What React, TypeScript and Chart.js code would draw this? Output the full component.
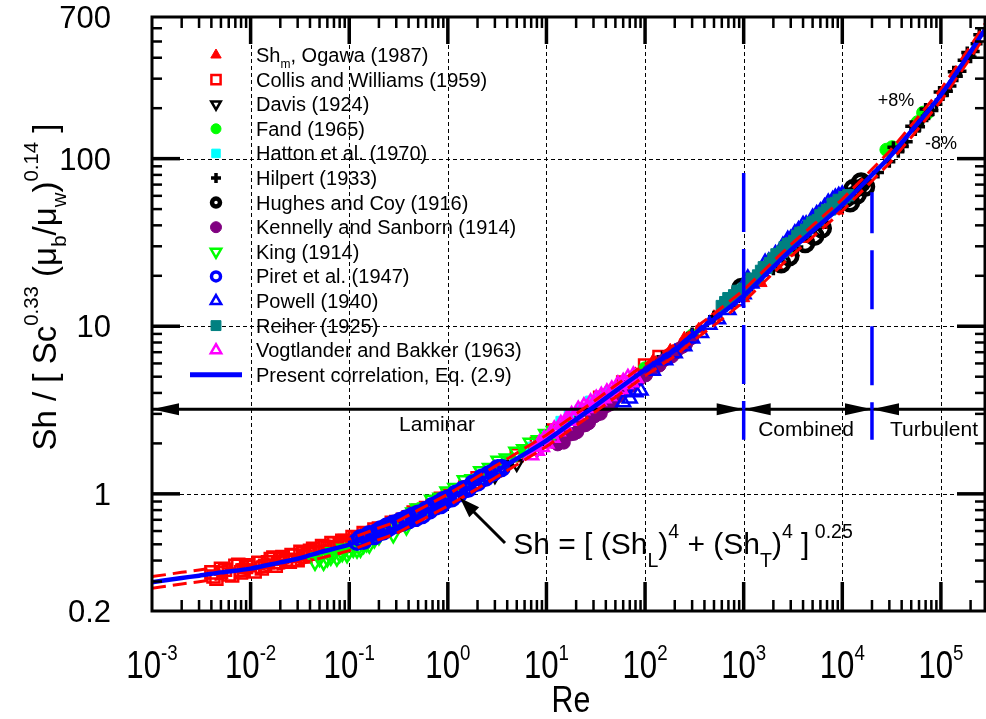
import React, { useEffect, useRef } from 'react';
import { Chart, registerables } from 'chart.js';
import { drawPoint } from 'chart.js/helpers';

Chart.register(...registerables);

const FONT = '"Liberation Sans", Arial, Helvetica, sans-serif';

// Axis ranges
const xMin = 1e-3;
const xMax = 2.8e5;
const yMin = 0.2;
const yMax = 700;
const yTickValues = [0.2, 1, 10, 100, 700];
const xTickExponents = [-3, -2, -1, 0, 1, 2, 3, 4, 5];

// Present correlation, Eq. (2.9)
const corrRe = [0.001, 0.002, 0.003, 0.005, 0.01, 0.02, 0.03, 0.05, 0.1, 0.2, 0.3, 0.5, 1, 2, 3, 5, 10, 20, 30, 50, 100, 200, 300, 500, 1000, 2000, 3000, 5000, 1e4, 2e4, 3e4, 5e4, 1e5, 2e5, 2.8e5];
const corrSh = [0.297, 0.315, 0.325, 0.34, 0.358, 0.39, 0.41, 0.448, 0.498, 0.58, 0.63, 0.74, 0.92, 1.17, 1.35, 1.62, 2.08, 2.78, 3.29, 4.1, 5.5, 7.2, 8.8, 11.0, 15.2, 22.6, 28.4, 37, 53, 80, 102, 146, 240, 435, 590];
// +8% / -8% band around the correlation
const bandUpper = 1.08;
const bandLower = 0.92;

// Experimental data sets
const ogawaRe = [80, 120, 180, 250, 350, 500, 700, 1000, 1500, 2200, 3200, 4500, 6500, 9000, 13000, 18000];
const ogawaSh = [5.2, 6.2, 7.18, 8.48, 9.59, 11.4, 13.3, 14.7, 18.1, 22.6, 27.6, 33.2, 40.2, 49.0, 58.9, 72];

const collisRe = [0.004, 0.0042, 0.0045, 0.005, 0.0055, 0.006, 0.0065, 0.007, 0.0075, 0.008, 0.0085, 0.009, 0.0095, 0.011, 0.012, 0.013, 0.014, 0.015, 0.016, 0.017, 0.018, 0.019, 0.02, 0.021, 0.023, 0.025, 0.026, 0.028, 0.03, 0.032, 0.034, 0.036, 0.038, 0.04, 0.043, 0.046, 0.05, 0.053, 0.056, 0.06, 0.063, 0.066, 0.07, 0.075, 0.08, 0.085, 0.09, 0.095, 0.1, 0.108, 0.115, 0.122, 0.13, 0.14, 0.15, 0.16, 0.17, 0.18, 0.2, 0.22, 0.25, 0.27, 0.3, 0.35, 0.4, 0.45, 0.5, 0.6, 0.7, 0.85, 1, 1.5, 2, 3, 5, 8, 12, 20, 35, 60, 100, 140];
const collisSh = [0.340, 0.321, 0.312, 0.357, 0.353, 0.330, 0.326, 0.372, 0.378, 0.340, 0.350, 0.366, 0.375, 0.344, 0.388, 0.359, 0.372, 0.391, 0.408, 0.417, 0.372, 0.391, 0.410, 0.420, 0.405, 0.393, 0.431, 0.428, 0.402, 0.452, 0.443, 0.423, 0.439, 0.457, 0.471, 0.449, 0.448, 0.488, 0.484, 0.475, 0.480, 0.509, 0.508, 0.477, 0.495, 0.525, 0.523, 0.509, 0.520, 0.552, 0.551, 0.546, 0.544, 0.584, 0.578, 0.574, 0.571, 0.612, 0.621, 0.621, 0.634, 0.672, 0.680, 0.701, 0.725, 0.773, 0.792, 0.823, 0.853, 0.935, 0.975, 1.09, 1.24, 1.38, 1.70, 1.99, 2.39, 2.89, 3.75, 4.62, 5.83, 6.55];

const davisRe = [3, 5, 8, 12, 18, 25, 35, 50, 70, 100, 150, 220];
const davisSh = [1.28, 1.51, 1.83, 2.12, 2.54, 2.81, 3.29, 3.90, 4.47, 5.28, 6.13, 7.25];

const fandRe = [3, 6, 15, 40, 100, 300, 1000, 3000, 10000, 28000, 32000, 58000, 66000, 72000];
const fandSh = [1.42, 1.79, 2.60, 3.86, 5.61, 8.8, 15.5, 29.3, 54.1, 113, 117, 165, 188, 186];

const hattonRe = [2, 4, 7, 10, 14, 17, 22, 28, 35, 44];
const hattonSh = [1.23, 1.59, 1.90, 2.25, 2.71, 2.99, 3.17, 3.58, 3.78, 4.10];

const hilpertRe = [2, 4, 10, 20, 40, 80, 150, 300, 500, 800, 1200, 2000, 3500, 6000, 10000, 16000, 23000, 30000, 33000, 37000, 41000, 45000, 50000, 55000, 60000, 65000, 70000, 75000, 82000, 90000, 97000, 105000, 115000, 125000, 135000, 145000, 158000, 170000, 185000, 200000, 215000, 230000, 245000];
const hilpertSh = [1.21, 1.47, 2.12, 2.70, 3.68, 4.90, 6.58, 9.06, 11.4, 14.1, 17.5, 21.9, 29.7, 39.0, 51.4, 68.6, 82.7, 95.9, 117, 110, 118, 126, 156, 148, 155, 169, 198, 184, 194, 211, 250, 240, 252, 271, 330, 310, 332, 386, 430, 403, 436, 484, 548];

const hughesRe = [950, 2400, 2900, 4200, 5200, 6200, 11000, 12000, 13000, 14000, 15500, 17000];
const hughesSh = [16.9, 23.8, 26.2, 31.4, 34.7, 38.4, 58.8, 55.0, 66.0, 61.0, 72.0, 68.0];

const kennellyRe = [12, 13, 14, 15, 16, 17.5, 19, 20.5, 22, 23.5, 25, 27, 29, 31, 33, 35.5, 38, 41, 44, 47, 50, 55, 60, 65, 70, 75, 80, 88, 95, 102, 110, 120, 130, 140, 150, 162, 175, 188, 200, 220, 240, 260, 280, 300];
const kennellySh = [2.03, 1.973, 2.08, 2.021, 2.24, 2.262, 2.28, 2.332, 2.51, 2.556, 2.57, 2.643, 2.85, 2.903, 2.98, 3.007, 3.26, 3.350, 3.41, 3.473, 3.73, 3.843, 4.05, 4.215, 4.42, 4.428, 4.65, 4.836, 5.08, 5.097, 5.43, 5.605, 5.73, 5.831, 6.19, 6.374, 6.51, 6.608, 6.98, 7.324, 7.54, 7.790, 8.33, 8.536];

const kingRe = [0.045, 0.05, 0.055, 0.06, 0.065, 0.07, 0.075, 0.08, 0.085, 0.09, 0.095, 0.1, 0.11, 0.12, 0.13, 0.14, 0.15, 0.16, 0.18, 0.2, 0.24, 0.28, 0.33, 0.38, 0.45, 0.5, 0.6, 0.7, 0.85, 1, 1.2, 1.5, 1.8, 2.2, 2.7, 3.3, 4, 5, 6, 7, 8.5, 10, 12];
const kingSh = [0.396, 0.417, 0.3955, 0.416, 0.4244, 0.447, 0.4195, 0.441, 0.447, 0.468, 0.4398, 0.460, 0.473, 0.468, 0.474, 0.499, 0.511, 0.502, 0.539, 0.563, 0.629, 0.578, 0.689, 0.644, 0.772, 0.814, 0.827, 0.918, 0.945, 1.03, 1.08, 1.20, 1.22, 1.36, 1.42, 1.57, 1.62, 1.78, 1.84, 2.01, 2.08, 2.27, 2.36];

const piretRe = [0.12, 0.13, 0.14, 0.15, 0.16, 0.18, 0.19, 0.21, 0.22, 0.24, 0.25, 0.28, 0.3, 0.33, 0.35, 0.38, 0.4, 0.44, 0.47, 0.5, 0.55, 0.6, 0.65, 0.7, 0.75, 0.8, 0.85, 0.9, 0.95, 1.0, 1.1, 1.2, 1.3, 1.45, 1.6, 1.8, 2, 2.2, 2.4, 2.6, 2.9, 3.2, 3.5];
const piretSh = [0.518, 0.543, 0.525, 0.555, 0.574, 0.561, 0.591, 0.615, 0.597, 0.638, 0.625, 0.663, 0.655, 0.688, 0.674, 0.713, 0.697, 0.739, 0.719, 0.762, 0.747, 0.800, 0.796, 0.847, 0.840, 0.875, 0.857, 0.917, 0.915, 0.938, 0.941, 1.000, 1.007, 1.067, 1.072, 1.151, 1.170, 1.246, 1.247, 1.309, 1.347, 1.422, 1.426];

const powellRe = [60, 70, 80, 90, 120, 160, 200, 250, 300, 370, 450, 550, 700, 850, 1000, 1100, 1200, 1500, 1650, 1800, 2100, 2500, 2800, 3000, 3300, 3600, 4000, 4300, 5000, 5500, 6000, 6600, 7200, 8000, 8500, 9200, 10000];
const powellSh = [3.52, 3.71, 4.04, 4.13, 5.43, 6.27, 6.91, 7.60, 8.45, 9.12, 10.2, 11.0, 12.5, 14.1, 15.5, 19.3, 18.0, 21.2, 23.9, 24.3, 26.9, 30.2, 32.8, 33.2, 35.8, 37.4, 40.2, 40.4, 44.4, 46.6, 48.4, 51.3, 54.6, 56.6, 58.5, 59.9, 61.0];

const reiherRe = [600, 650, 700, 750, 800, 870, 950, 1000, 1100, 1200, 1300, 1400, 1500, 1600, 1700, 1850, 2000, 2150, 2300, 2450, 2600, 2800, 3000, 3250, 3500, 3750, 4000, 4300, 4600, 4950, 5300, 5650, 6000, 6500, 7000, 7500, 8000, 8600, 9200, 9800, 10500, 11500];
const reiherSh = [13.2, 13.92, 14.7, 14.49, 15.3, 16.25, 16.3, 16.72, 18.1, 19.23, 19.1, 20.09, 21.4, 22.48, 22.3, 23.77, 25.3, 26.84, 27.0, 27.87, 29.6, 30.87, 31.2, 32.26, 34.6, 36.02, 36.3, 37.64, 39.8, 41.49, 42.1, 42.97, 45.9, 47.47, 49.3, 49.76, 53.6, 54.38, 56.7, 56.61, 58.9, 60.47];

const vogtRe = [7, 7.5, 8, 8.5, 9, 9.5, 10, 11, 11.5, 12, 13, 14, 15, 16, 17, 18, 20, 21, 23, 24, 26, 28, 30, 32, 34, 36, 38, 41, 43, 46, 50, 53, 56, 60, 63, 67, 72, 76, 80];
const vogtSh = [1.701, 1.820, 1.805, 2.001, 1.903, 2.124, 1.997, 2.295, 2.161, 2.424, 2.367, 2.609, 2.564, 2.786, 2.728, 2.954, 2.947, 3.177, 3.152, 3.328, 3.254, 3.513, 3.422, 3.687, 3.576, 3.844, 3.716, 4.027, 3.842, 4.192, 4.182, 4.497, 4.216, 4.652, 4.522, 4.918, 4.640, 5.090, 4.904];

// Flow-regime bar and boundaries
const regimeLevel = 3.2;
const regimeArrowRe = [1e-3, 1000, 1000, 2e4, 2e4];
const regimeArrowDir = [-1, 1, -1, 1, -1];
const boundaryRe = [1000, 2e4];
const boundaryTop = [82, 63];
const boundaryBottom = 2.1;

// Text annotations [Re, value]
const regimeLabels = ['Laminar', 'Combined', 'Turbulent'];
const regimeLabelRe = [0.776, 4290, 85100];
const regimeLabelSh = [2.58, 2.4, 2.4];
const bandLabels = ['+8%', '-8%'];
const bandLabelRe = [35100, 1.0e5];
const bandLabelSh = [221, 122];
const equationText = 'Sh = [ (Sh_{L})^{4} + (Sh_{T})^{4} ]^{ 0.25}';
const equationAt = [4.6, 0.4375];
const equationArrowFrom = [3.8, 0.509];
const equationArrowTo = [1.33, 0.944];

const RED = '#ff0000';
const BLUE = '#0000ff';
const GREEN = '#00ff00';

type Series = {
  label: string; re: number[]; sh: number[]; style: string; rot?: number;
  color: string; fill: boolean; r: number; bw: number; lr: number;
};

const series: Series[] = [
  { label: 'Sh_{m}, Ogawa (1987)', re: ogawaRe, sh: ogawaSh, style: 'triangle', color: RED, fill: true, r: 7, bw: 1, lr: 6 },
  { label: 'Collis and Williams (1959)', re: collisRe, sh: collisSh, style: 'rect', color: RED, fill: false, r: 8.5, bw: 2.5, lr: 6.5 },
  { label: 'Davis (1924)', re: davisRe, sh: davisSh, style: 'triangle', rot: 180, color: '#000000', fill: false, r: 7, bw: 2.5, lr: 5.5 },
  { label: 'Fand (1965)', re: fandRe, sh: fandSh, style: 'circle', color: GREEN, fill: true, r: 6.5, bw: 1, lr: 5 },
  { label: 'Hatton et al. (1970)', re: hattonRe, sh: hattonSh, style: 'rect', color: '#00ffff', fill: true, r: 7, bw: 1, lr: 6 },
  { label: 'Hilpert (1933)', re: hilpertRe, sh: hilpertSh, style: 'cross', color: '#000000', fill: false, r: 6, bw: 3.5, lr: 5 },
  { label: 'Hughes and Coy (1916)', re: hughesRe, sh: hughesSh, style: 'circle', color: '#000000', fill: false, r: 8, bw: 4.5, lr: 4 },
  { label: 'Kennelly and Sanborn (1914)', re: kennellyRe, sh: kennellySh, style: 'circle', color: '#800080', fill: true, r: 6.5, bw: 1, lr: 5.5 },
  { label: 'King (1914)', re: kingRe, sh: kingSh, style: 'triangle', rot: 180, color: GREEN, fill: false, r: 8.5, bw: 2.5, lr: 6 },
  { label: 'Piret et al. (1947)', re: piretRe, sh: piretSh, style: 'circle', color: BLUE, fill: false, r: 7.5, bw: 3.5, lr: 4.5 },
  { label: 'Powell (1940)', re: powellRe, sh: powellSh, style: 'triangle', color: BLUE, fill: false, r: 8, bw: 2.5, lr: 6 },
  { label: 'Reiher (1925)', re: reiherRe, sh: reiherSh, style: 'rect', color: '#008080', fill: true, r: 8, bw: 1, lr: 7 },
  { label: 'Vogtlander and Bakker (1963)', re: vogtRe, sh: vogtSh, style: 'triangle', color: '#ff00ff', fill: false, r: 8, bw: 2.5, lr: 6 },
];
const correlationLabel = 'Present correlation, Eq. (2.9)';

const pts = (xs: number[], ys: number[]) => xs.map((x, i) => ({ x, y: ys[i] }));

// ---- rich text (sub/superscripts) ----
type Seg = { t: string; k: number };
function parseRich(s: string): Seg[] {
  const segs: Seg[] = [];
  let buf = '';
  let i = 0;
  while (i < s.length) {
    const c = s[i];
    if ((c === '^' || c === '_') && s[i + 1] === '{') {
      if (buf) { segs.push({ t: buf, k: 0 }); buf = ''; }
      const end = s.indexOf('}', i);
      segs.push({ t: s.slice(i + 2, end), k: c === '^' ? 1 : -1 });
      i = end + 1;
    } else {
      buf += c;
      i++;
    }
  }
  if (buf) segs.push({ t: buf, k: 0 });
  return segs;
}

function drawRich(ctx: CanvasRenderingContext2D, text: string, x: number, y: number, size: number,
  align: string, o: any = {}) {
  const hs = o.hs ?? 1;
  const small = size * (o.small ?? 0.65);
  const supShift = size * (o.sup ?? 0.55);
  const subShift = size * (o.sub ?? 0.35);
  const segs = parseRich(text);
  const widths = segs.map((s) => {
    ctx.font = `${s.k ? small : size}px ${FONT}`;
    return ctx.measureText(s.t).width;
  });
  const total = widths.reduce((a, b) => a + b, 0);
  let cx = align === 'left' ? 0 : align === 'center' ? -total / 2 : -total;
  ctx.save();
  ctx.translate(x, y);
  if (o.rotate) ctx.rotate(o.rotate);
  ctx.scale(hs, 1);
  ctx.textAlign = 'left';
  ctx.textBaseline = 'alphabetic';
  ctx.fillStyle = o.color ?? '#000';
  segs.forEach((s, i) => {
    ctx.font = `${s.k ? small : size}px ${FONT}`;
    ctx.fillText(s.t, cx, s.k === 1 ? -supShift : s.k === -1 ? subShift : 0);
    cx += widths[i];
  });
  ctx.restore();
}

function logTicks(min: number, max: number) {
  const majors: number[] = [];
  const minors: number[] = [];
  for (let e = Math.floor(Math.log10(min)); e <= Math.ceil(Math.log10(max)); e++) {
    for (let k = 1; k <= 9; k++) {
      const v = k * Math.pow(10, e);
      if (v <= min * 1.0001 || v >= max * 0.9999) continue;
      (k === 1 ? majors : minors).push(v);
    }
  }
  return { majors, minors };
}

function arrowHead(ctx: CanvasRenderingContext2D, tx: number, ty: number, dx: number, dy: number, len: number, half: number) {
  const bx = tx - dx * len;
  const by = ty - dy * len;
  const nx = -dy;
  const ny = dx;
  ctx.beginPath();
  ctx.moveTo(tx, ty);
  ctx.lineTo(bx + nx * half, by + ny * half);
  ctx.lineTo(bx - nx * half, by - ny * half);
  ctx.closePath();
  ctx.fill();
}

const framePlugin = {
  id: 'frame',
  beforeDatasetsDraw(chart: any) {
    const { ctx, chartArea: a, scales } = chart;
    const xs = scales.x;
    const ys = scales.y;
    ctx.save();
    ctx.strokeStyle = '#000';
    ctx.lineWidth = 1;
    ctx.setLineDash([4, 3]);
    logTicks(xMin, xMax).majors.forEach((v) => {
      const px = Math.round(xs.getPixelForValue(v)) + 0.5;
      ctx.beginPath(); ctx.moveTo(px, a.top); ctx.lineTo(px, a.bottom); ctx.stroke();
    });
    logTicks(yMin, yMax).majors.forEach((v) => {
      const py = Math.round(ys.getPixelForValue(v)) + 0.5;
      ctx.beginPath(); ctx.moveTo(a.left, py); ctx.lineTo(a.right, py); ctx.stroke();
    });
    ctx.restore();
  },
  afterDatasetsDraw(chart: any) {
    const { ctx, chartArea: a, scales } = chart;
    const xs = scales.x;
    const ys = scales.y;
    const X = (v: number) => xs.getPixelForValue(v);
    const Y = (v: number) => ys.getPixelForValue(v);
    ctx.save();

    // regime bar arrowheads
    ctx.fillStyle = '#000';
    regimeArrowRe.forEach((re, i) => arrowHead(ctx, X(re), Y(regimeLevel), regimeArrowDir[i], 0, 27, 6));

    // regime labels and band labels
    ctx.fillStyle = '#000';
    ctx.textAlign = 'center';
    ctx.textBaseline = 'middle';
    regimeLabels.forEach((t, i) => {
      ctx.font = `21px ${FONT}`;
      ctx.fillText(t, X(regimeLabelRe[i]), Y(regimeLabelSh[i]));
    });
    bandLabels.forEach((t, i) => {
      ctx.font = `18px ${FONT}`;
      ctx.fillText(t, X(bandLabelRe[i]), Y(bandLabelSh[i]));
    });

    // equation with pointer arrow
    drawRich(ctx, equationText, X(equationAt[0]), Y(equationAt[1]), 30, 'left', { small: 0.65, sup: 0.55, sub: 0.43 });
    const fx = X(equationArrowFrom[0]);
    const fy = Y(equationArrowFrom[1]);
    const tx = X(equationArrowTo[0]);
    const ty = Y(equationArrowTo[1]);
    const len = Math.hypot(tx - fx, ty - fy);
    const ux = (tx - fx) / len;
    const uy = (ty - fy) / len;
    ctx.strokeStyle = '#000';
    ctx.lineWidth = 3;
    ctx.beginPath(); ctx.moveTo(fx, fy); ctx.lineTo(tx - ux * 14, ty - uy * 14); ctx.stroke();
    arrowHead(ctx, tx, ty, ux, uy, 20, 7);

    // axes box
    ctx.lineWidth = 3;
    ctx.strokeStyle = '#000';
    ctx.strokeRect(a.left, a.top, a.right - a.left, a.bottom - a.top);

    // inward tick marks
    const xt = logTicks(xMin, xMax);
    const yt = logTicks(yMin, yMax);
    const tick = (x1: number, y1: number, x2: number, y2: number, w: number) => {
      ctx.lineWidth = w;
      ctx.beginPath(); ctx.moveTo(x1, y1); ctx.lineTo(x2, y2); ctx.stroke();
    };
    xt.majors.forEach((v) => { const p = X(v); tick(p, a.bottom, p, a.bottom - 29, 3.5); tick(p, a.top, p, a.top + 27, 3.5); });
    xt.minors.forEach((v) => { const p = X(v); tick(p, a.bottom, p, a.bottom - 11, 2.5); tick(p, a.top, p, a.top + 11, 2.5); });
    yt.majors.forEach((v) => { const p = Y(v); tick(a.left, p, a.left + 28, p, 3.5); tick(a.right, p, a.right - 28, p, 3.5); });
    yt.minors.forEach((v) => { const p = Y(v); tick(a.left, p, a.left + 10, p, 2.5); tick(a.right, p, a.right - 10, p, 2.5); });

    // tick labels
    yTickValues.forEach((v) => {
      drawRich(ctx, String(v), a.left - 41, Y(v) + 11, 31, 'right');
    });
    xTickExponents.forEach((e) => {
      drawRich(ctx, `10^{${e}}`, X(Math.pow(10, e)), a.bottom + 67, 38, 'center', { hs: 0.82, small: 0.6, sup: 0.48 });
    });

    // axis titles
    drawRich(ctx, 'Re', (a.left + a.right) / 2 + 2.5, a.bottom + 101, 37, 'center', { hs: 0.82 });
    drawRich(ctx, 'Sh / [ Sc^{0.33} (\u03bc_{b}/\u03bc_{w})^{0.14} ]', 56, 287, 33, 'center',
      { rotate: -Math.PI / 2, small: 0.62, sup: 0.55, sub: 0.3 });

    // legend
    const lx = a.left + 64;
    const tx0 = a.left + 104;
    series.forEach((s, i) => {
      const y = a.top + 38 + i * 24.6;
      ctx.fillStyle = s.fill ? s.color : 'rgba(0,0,0,0)';
      ctx.strokeStyle = s.color;
      ctx.lineWidth = s.bw;
      drawPoint(ctx, { pointStyle: s.style, rotation: s.rot ?? 0, radius: s.lr, borderWidth: s.bw }, lx, y);
      drawRich(ctx, s.label, tx0, y + 7, 20, 'left', { small: 0.6, sub: 0.3 });
    });
    const ly = a.top + 38 + series.length * 24.6;
    ctx.strokeStyle = BLUE;
    ctx.lineWidth = 5;
    ctx.beginPath(); ctx.moveTo(a.left + 38, ly); ctx.lineTo(a.left + 90, ly); ctx.stroke();
    drawRich(ctx, correlationLabel, tx0, ly + 7, 20, 'left');

    ctx.restore();
  },
};

function buildConfig(): any {
  const n = series.length;
  const scatterSets = series.map((s, i) => ({
    label: s.label,
    data: pts(s.re, s.sh),
    showLine: false,
    pointStyle: s.style,
    pointRotation: s.rot ?? 0,
    pointRadius: s.r,
    pointBorderWidth: s.bw,
    pointBorderColor: s.color,
    pointBackgroundColor: s.fill ? s.color : 'rgba(0,0,0,0)',
    order: 4 + (n - 1 - i),
  }));
  const lineSet = (data: any[], color: string, width: number, order: number, extra: any = {}) => ({
    type: 'line',
    data,
    borderColor: color,
    borderWidth: width,
    pointRadius: 0,
    fill: false,
    order,
    ...extra,
  });
  return {
    type: 'scatter',
    data: {
      datasets: [
        ...scatterSets,
        lineSet(pts([xMin, xMax], [regimeLevel, regimeLevel]), '#000', 3, 3),
        lineSet(pts(corrRe, corrSh.map((v) => v * bandUpper)), RED, 3, 2, { borderDash: [14, 7] }),
        lineSet(pts(corrRe, corrSh.map((v) => v * bandLower)), RED, 3, 2, { borderDash: [14, 7] }),
        lineSet(pts([boundaryRe[0], boundaryRe[0]], [boundaryTop[0], boundaryBottom]), BLUE, 3.5, 1, { borderDash: [59, 17] }),
        lineSet(pts([boundaryRe[1], boundaryRe[1]], [boundaryTop[1], boundaryBottom]), BLUE, 3.5, 1, { borderDash: [59, 17], borderDashOffset: 18 }),
        lineSet(pts(corrRe, corrSh), BLUE, 4.5, 0, { cubicInterpolationMode: 'monotone', label: correlationLabel }),
      ],
    },
    options: {
      responsive: false,
      animation: false,
      devicePixelRatio: 1,
      events: [],
      layout: { autoPadding: false, padding: { left: 152, right: 1, top: 17, bottom: 108 } },
      scales: {
        x: { type: 'logarithmic', min: xMin, max: xMax, display: false },
        y: { type: 'logarithmic', min: yMin, max: yMax, display: false },
      },
      plugins: { legend: { display: false }, tooltip: { enabled: false } },
    },
    plugins: [framePlugin],
  };
}

export default function App() {
  const ref = useRef<HTMLCanvasElement>(null);
  useEffect(() => {
    const chart = new Chart(ref.current as HTMLCanvasElement, buildConfig());
    return () => chart.destroy();
  }, []);
  return (
    <div style={{ position: 'fixed', left: 0, top: 0, width: 986, height: 719, background: '#ffffff' }}>
      <canvas ref={ref} width={986} height={719} style={{ display: 'block' }} />
    </div>
  );
}
